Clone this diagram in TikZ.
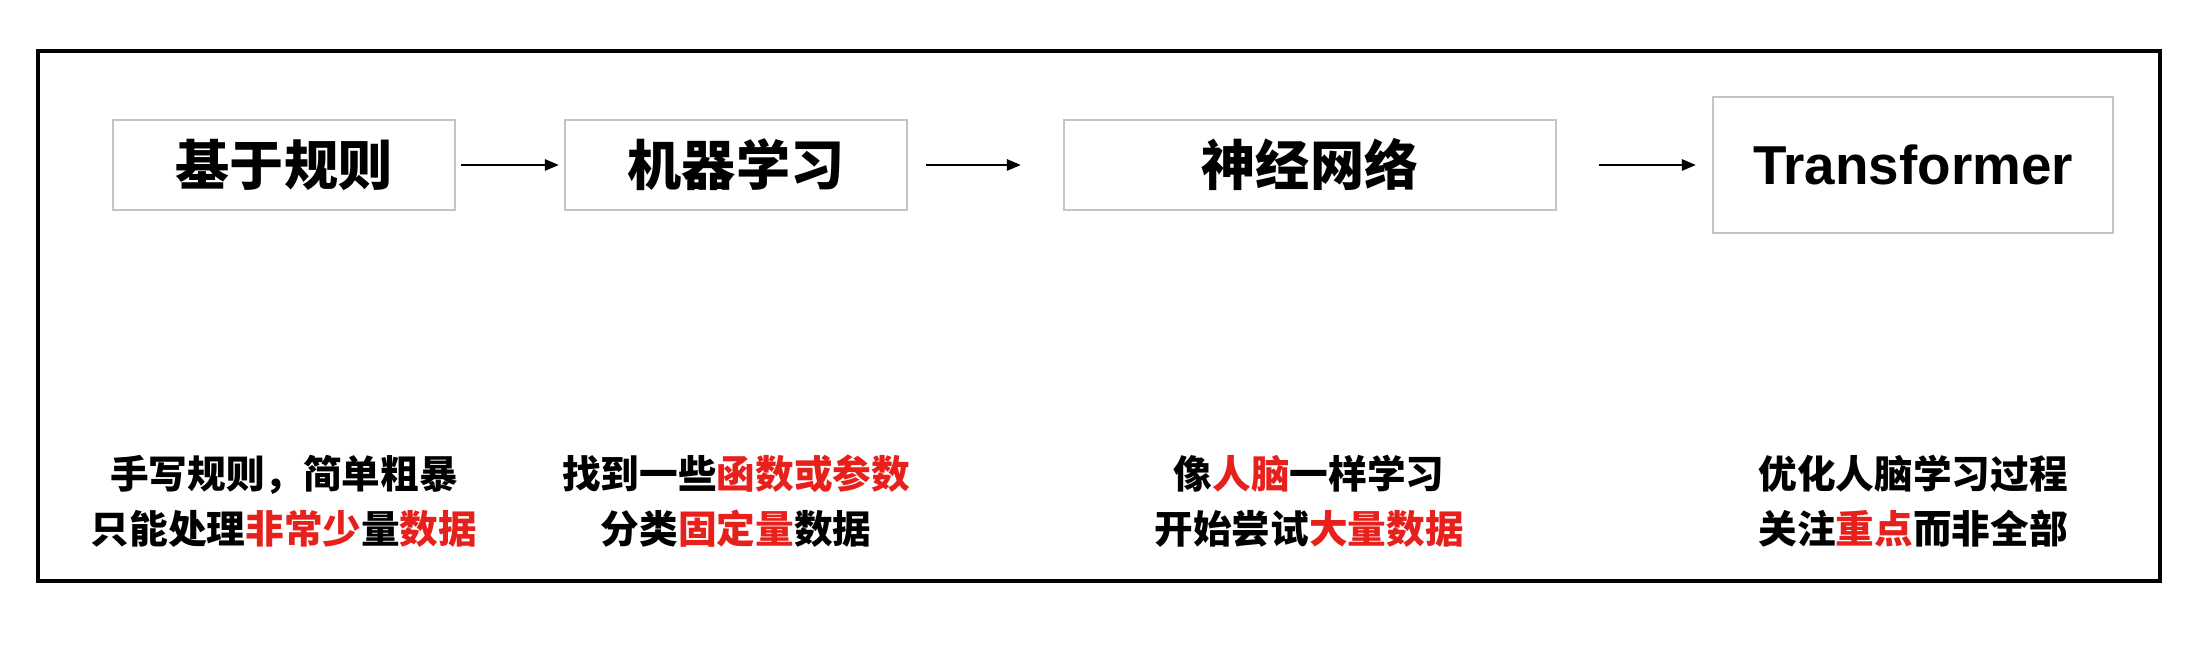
\documentclass[tikz,border=0pt]{standalone}
\usepackage{fontspec}
\setmainfont{Liberation Sans}
\newfontfamily\cjk{Noto Sans CJK SC}
\usetikzlibrary{arrows.meta}
\definecolor{hl}{RGB}{232,32,28}
\definecolor{boxgray}{RGB}{196,196,196}
\tikzset{
  frame/.style={line width=0.9pt},
  stage/.style={draw=boxgray,line width=0.6pt,minimum height=0.9cm,inner sep=0pt,
    font=\cjk\bfseries\fontsize{15.4}{18}\selectfont},
  latin/.style={font=\bfseries\fontsize{15.6}{18}\selectfont},
  note/.style={align=center,inner sep=0pt,font=\cjk\bfseries\fontsize{11}{15.65}\selectfont},
  flow/.style={line width=0.7pt,-{Triangle[length=1.4mm,width=1.1mm]}},
}
\newcommand{\hlt}[1]{\textcolor{hl}{#1}}

\begin{document}
\begin{tikzpicture}
  \useasboundingbox (0,0) rectangle (22.06,-6.56);
  % ---------- outer frame ----------
  \draw[frame] (0.38,-0.51) rectangle (21.60,-5.81);
  % ---------- stages ----------
  \node[stage,minimum width=3.42cm] (rule) at (2.84,-1.65) {基于规则};
  \node[stage,minimum width=3.42cm] (ml) at (7.36,-1.65) {机器学习};
  \node[stage,minimum width=4.92cm] (nn) at (13.10,-1.65) {神经网络};
  \node[stage,latin,minimum width=4.00cm,minimum height=1.36cm] (tf) at (19.13,-1.65) {Transformer};
  % arrows between stages
  \draw[flow,shorten <=0.05cm,shorten >=0.05cm] (rule) -- (ml);
  \draw[flow,shorten <=0.18cm,shorten >=0.42cm] (ml) -- (nn);
  \draw[flow,shorten <=0.42cm,shorten >=0.16cm] (nn) -- (tf);
  % ---------- notes under each stage ----------
  \node[note] (ruletxt) at (2.84,-5.015) {手写规则，简单粗暴\\只能处理\hlt{非常少}量\hlt{数据}};
  \node[note] (mltxt) at (7.36,-5.015) {找到一些\hlt{函数或参数}\\分类\hlt{固定量}数据};
  \node[note] (nntxt) at (13.09,-5.015) {像\hlt{人脑}一样学习\\开始尝试\hlt{大量数据}};
  \node[note] (tftxt) at (19.13,-5.015) {优化人脑学习过程\\关注\hlt{重点}而非全部};
\end{tikzpicture}
\end{document}
